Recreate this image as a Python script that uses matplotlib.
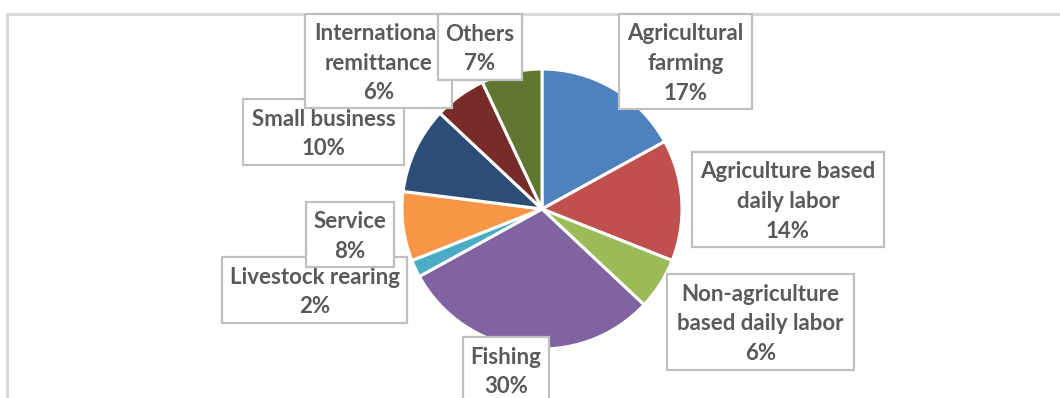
import matplotlib
matplotlib.use("Agg")
import matplotlib.pyplot as plt
from matplotlib.patches import Rectangle

# Income sources and their shares (%)
categories = [
    "Agricultural\nfarming",
    "Agriculture based\ndaily labor",
    "Non-agriculture\nbased daily labor",
    "Fishing",
    "Livestock rearing",
    "Service",
    "Small business",
    "International\nremittance",
    "Others",
]
shares = [17, 14, 6, 30, 2, 8, 10, 6, 7]
colors = ["#4F81BD", "#C0504D", "#9BBB59", "#8064A2", "#4BACC6",
          "#F79646", "#2C4D75", "#772C2A", "#5F7530"]

# Label box placement in pixels: (left, top, right, bottom)
label_boxes = [
    (619, 14, 752, 109),
    (692, 152, 884, 247),
    (667, 274, 854, 370),
    (463, 337, 549, 403),
    (222, 257, 407, 323),
    (306, 202, 394, 267),
    (243, 99, 404, 165),
    (305, 14, 452, 108),
    (438, 14, 522, 80),
]

W, H = 1060, 398
fig = plt.figure(figsize=(W / 100, H / 100), dpi=100)
fig.patch.set_facecolor("white")

# Pie axes: center (542, 209), radius 140 px
cx, cy, r = 542, 209, 140
ax = fig.add_axes([(cx - r) / W, (H - cy - r) / H, 2 * r / W, 2 * r / H])
ax.pie(shares, colors=colors, startangle=90, counterclock=False, radius=1,
       wedgeprops=dict(edgecolor="white", linewidth=2.2))
ax.set_xlim(-1, 1)
ax.set_ylim(-1, 1)
ax.set_aspect("auto")
ax.axis("off")

# Overlay axes in pixel coordinates for the frame and labels
ov = fig.add_axes([0, 0, 1, 1])
ov.set_xlim(0, W)
ov.set_ylim(H, 0)
ov.axis("off")
ov.patch.set_alpha(0)

# Chart-area border (top and left edges)
ov.plot([6.5, 6.5, W + 5], [H + 5, 14, 14], color="#D9D9D9", lw=2.2,
        solid_joinstyle="miter", zorder=1)

line_gap = 29.5
txt_color = "#595959"
for i, (cat, val, box) in enumerate(zip(categories, shares, label_boxes)):
    x0, y0, x1, y1 = box
    z = 10 + 2 * i
    ov.add_patch(Rectangle((x0, y0), x1 - x0, y1 - y0, facecolor="white",
                           edgecolor="#BFBFBF", lw=1.6, zorder=z))
    lines = cat.split("\n") + [f"{val}%"]
    n = len(lines)
    xc = (x0 + x1) / 2
    yc = (y0 + y1) / 2
    for k, s in enumerate(lines):
        ov.text(xc, yc + (k - (n - 1) / 2) * line_gap, s, ha="center",
                va="center_baseline", fontsize=16, fontweight="bold",
                family="Lato", color=txt_color, zorder=z + 1)

fig.savefig("out.png", dpi=100, facecolor="white")
